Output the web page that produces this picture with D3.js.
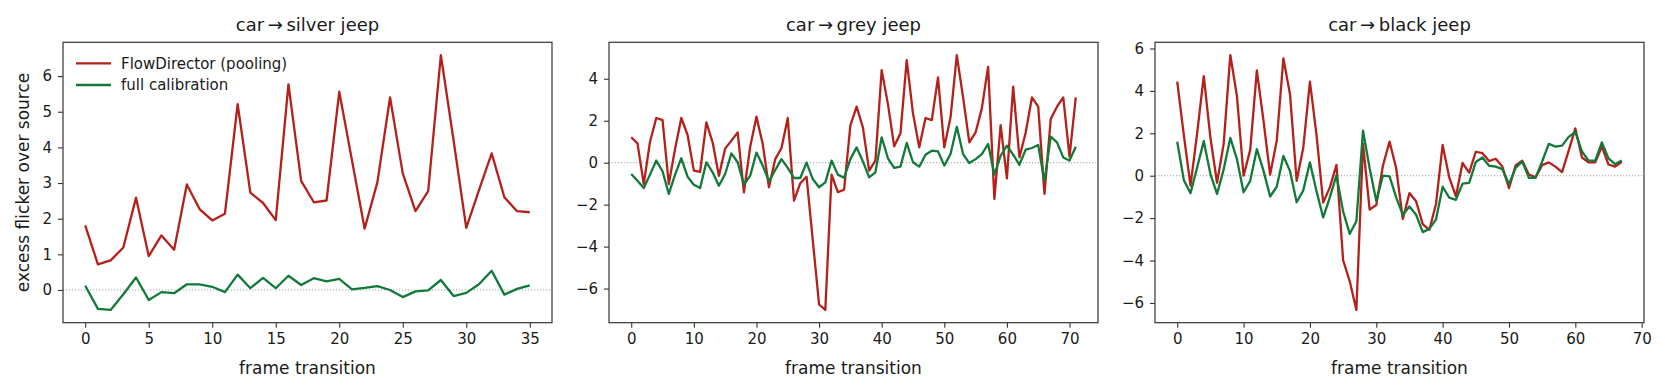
<!DOCTYPE html>
<html>
<head>
<meta charset="utf-8">
<script src="https://cdn.jsdelivr.net/npm/d3@7"></script>
<style>
    body { margin: 0; background: #fff; }
    text { font-family: "DejaVu Sans", sans-serif; fill: #1a1a1a; }
</style>
</head>
<body>
<div id="chart"></div>
<script>
// Series values, one entry per frame transition
const silverFlow = [1.81, 0.72, 0.83, 1.19, 2.59, 0.95, 1.53, 1.13, 2.96, 2.27, 1.95, 2.14, 5.21, 2.73, 2.44, 1.96, 5.77, 3.06,
    2.46, 2.51, 5.56, 3.64, 1.72, 3.02, 5.40, 3.27, 2.21, 2.77, 6.59, 4.2, 1.74, 2.8, 3.83, 2.60, 2.21, 2.18];
const silverCalib = [0.12, -0.53, -0.56, -0.12, 0.35, -0.28, -0.06, -0.09, 0.16, 0.16, 0.09, -0.06, 0.43, 0.05, 0.34, 0.05, 0.40, 0.14,
    0.33, 0.24, 0.31, 0.02, 0.06, 0.11, 0.0, -0.20, -0.04, -0.01, 0.28, -0.17, -0.08, 0.16, 0.54, -0.13, 0.03, 0.13];

const greyFlow = [1.21, 0.92, -1.02, 1.0, 2.13, 2.03, -1.02, 0.65, 2.13, 1.32, -0.38, -0.44, 1.92, 0.97, -0.63, 0.67, 1.05, 1.44,
    -1.41, 0.76, 2.19, 0.89, -1.17, 0.17, 0.70, 2.13, -1.81, -0.98, -0.67, -3.7, -6.76, -7.02, -0.57, -1.40, -1.29, 1.78,
    2.67, 1.68, -0.38, 0.1, 4.41, 2.79, 0.78, 1.40, 4.89, 2.35, 0.73, 2.13, 2.03, 4.06, 0.73, 2.16, 5.13, 3.11,
    0.97, 1.44, 2.60, 4.57, -1.73, 1.79, -0.75, 3.62, 0.25, 1.44, 3.11, 2.67, -1.49, 2.08, 2.67, 3.11, 0.29, 3.11];
const greyCalib = [-0.54, -0.86, -1.21, -0.57, 0.10, -0.41, -1.49, -0.57, 0.21, -0.67, -1.05, -1.21, 0.02, -0.46, -1.10, -0.54, 0.44, 0.02,
    -1.05, -0.62, 0.48, -0.14, -0.89, -0.35, 0.17, -0.25, -0.73, -0.73, 0.0, -0.78, -1.17, -0.94, 0.10, -0.57, -0.72, 0.17,
    0.73, 0.06, -0.70, -0.46, 1.21, 0.21, -0.25, -0.19, 0.94, 0.02, -0.19, 0.38, 0.57, 0.54, -0.14, 0.41, 1.71, 0.41,
    -0.02, 0.17, 0.41, 0.89, -0.57, 0.33, 0.81, 0.38, -0.10, 0.62, 0.70, 0.84, -0.89, 1.24, 0.97, 0.25, 0.10, 0.76];

const blackFlow = [4.44, 1.9, -0.47, 2.0, 4.70, 1.8, -0.33, 1.5, 5.69, 3.76, 0.0, 1.22, 4.97, 2.6, 0.05, 1.65, 5.53, 3.84,
    -0.24, 1.33, 4.44, 1.9, -1.27, -0.55, 0.51, -3.98, -4.98, -6.33, 1.5, -1.60, -1.38, 0.47, 1.61, 0.35,
    -2.04, -0.82, -1.20, -2.28, -2.55, -1.33, 1.45, -0.08, -0.98, 0.60, 0.15, 1.13, 1.06, 0.69, 0.80, 0.43,
    -0.59, 0.48, 0.71, 0.06, -0.08, 0.50, 0.63, 0.43, 0.17, 1.18, 2.23, 0.86, 0.63, 0.63, 1.37, 0.53, 0.43, 0.66];
const blackCalib = [1.60, -0.21, -0.82, 0.39, 1.63, 0.08, -0.86, 0.3, 1.78, 0.78, -0.78, -0.24, 1.25, 0.24, -0.98, -0.52, 0.93, 0.22,
    -1.25, -0.69, 0.63, -0.74, -1.97, -1.02, 0.03, -1.68, -2.74, -2.15, 2.12, 0.35, -1.19, 0.0, -0.03, -1.02,
    -1.84, -1.45, -1.84, -2.66, -2.51, -2.06, -0.52, -1.03, -1.14, -0.37, -0.34, 0.65, 0.86, 0.47, 0.43, 0.31,
    -0.40, 0.37, 0.67, -0.10, -0.10, 0.67, 1.50, 1.37, 1.42, 1.83, 2.07, 1.14, 0.71, 0.71, 1.57, 0.82, 0.55, 0.72];

// Titles, legend names and tick labels
const panelTitles = ["car\u2009\u2192\u2009silver jeep", "car\u2009\u2192\u2009grey jeep", "car\u2009\u2192\u2009black jeep"];
const seriesNames = ["FlowDirector (pooling)", "full calibration"];
const xTicksShort = [0, 5, 10, 15, 20, 25, 30, 35];
const xTicksLong = [0, 10, 20, 30, 40, 50, 60, 70];
const yTicksSilver = [0, 1, 2, 3, 4, 5, 6];
const yTicksGrey = [-6, -4, -2, 0, 2, 4];
const yTicksBlack = [-6, -4, -2, 0, 2, 4, 6];

const colours = ["#b3211a", "#117a38"];

const outerWidth = 1665;
const outerHeight = 391;
const panelLefts = [63, 609, 1155];
const panelWidth = 489;
const panelTop = 42.3;
const panelBottom = 322.7;

const tickFormat = (d) => d < 0 ? "\u2212" + Math.abs(d) : String(d);

const paddedDomain = (values) => {
    const ext = d3.extent(values);
    const pad = (ext[1] - ext[0]) * 0.05;
    return [ext[0] - pad, ext[1] + pad];
};

const svg = d3.select("#chart")
    .append("svg")
    .attr("width", outerWidth)
    .attr("height", outerHeight)
    .attr("viewBox", [0, 0, outerWidth, outerHeight]);

const drawPanel = (index, flow, calib, xTicks, yTicks, showLegend) => {
    const left = panelLefts[index];
    const n = flow.length;

    // Scales with matplotlib style 5% margins
    const xPad = (n - 1) * 0.05;
    const xScale = d3.scaleLinear()
        .domain([-xPad, n - 1 + xPad])
        .range([left, left + panelWidth]);

    const yScale = d3.scaleLinear()
        .domain(paddedDomain(flow.concat(calib)))
        .range([panelBottom, panelTop]);

    const g = svg.append("g");

    // Zero reference line
    g.append("line")
        .attr("x1", left)
        .attr("x2", left + panelWidth)
        .attr("y1", yScale(0))
        .attr("y2", yScale(0))
        .attr("stroke", "#8c8c8c")
        .attr("stroke-width", 0.8)
        .attr("stroke-dasharray", "1.2,1.8");

    // Series lines
    const line = d3.line()
        .x((d, i) => xScale(i))
        .y(d => yScale(d));

    [flow, calib].forEach((series, s) => {
        g.append("path")
            .datum(series)
            .attr("fill", "none")
            .attr("stroke", colours[s])
            .attr("stroke-width", 2.3)
            .attr("stroke-linejoin", "round")
            .attr("d", line);
    });

    // Axes
    const xAxis = d3.axisBottom(xScale)
        .tickValues(xTicks)
        .tickSize(5)
        .tickPadding(6)
        .tickFormat(tickFormat);

    const yAxis = d3.axisLeft(yScale)
        .tickValues(yTicks)
        .tickSize(5)
        .tickPadding(6)
        .tickFormat(tickFormat);

    const gx = g.append("g")
        .attr("transform", "translate(0," + panelBottom + ")")
        .call(xAxis);

    const gy = g.append("g")
        .attr("transform", "translate(" + left + ",0)")
        .call(yAxis);

    [gx, gy].forEach(ax => {
        ax.select(".domain").remove();
        ax.selectAll("line").attr("stroke", "#333").attr("stroke-width", 1.1);
        ax.selectAll("text")
            .attr("font-size", 15)
            .attr("fill", "#1a1a1a")
            .style("font-family", "DejaVu Sans");
    });

    // Frame
    g.append("rect")
        .attr("x", left)
        .attr("y", panelTop)
        .attr("width", panelWidth)
        .attr("height", panelBottom - panelTop)
        .attr("fill", "none")
        .attr("stroke", "#333")
        .attr("stroke-width", 1.2);

    // Title and x label
    g.append("text")
        .attr("x", left + panelWidth / 2)
        .attr("y", 30.5)
        .attr("text-anchor", "middle")
        .attr("font-size", 18)
        .text(panelTitles[index]);

    g.append("text")
        .attr("x", left + panelWidth / 2)
        .attr("y", 374)
        .attr("text-anchor", "middle")
        .attr("font-size", 17)
        .text("frame transition");

    if (showLegend) {
        const legend = g.append("g");
        seriesNames.forEach((name, s) => {
            const cy = 63.3 + s * 21.7;
            legend.append("line")
                .attr("x1", left + 13)
                .attr("x2", left + 48)
                .attr("y1", cy)
                .attr("y2", cy)
                .attr("stroke", colours[s])
                .attr("stroke-width", 2.3);
            legend.append("text")
                .attr("x", left + 58)
                .attr("y", cy + 5.3)
                .attr("font-size", 15)
                .text(name);
        });
    }
};

drawPanel(0, silverFlow, silverCalib, xTicksShort, yTicksSilver, true);
drawPanel(1, greyFlow, greyCalib, xTicksLong, yTicksGrey, false);
drawPanel(2, blackFlow, blackCalib, xTicksLong, yTicksBlack, false);

// Shared y label on the first panel
svg.append("text")
    .attr("transform", "translate(28.5," + ((panelTop + panelBottom) / 2) + ") rotate(-90)")
    .attr("text-anchor", "middle")
    .attr("font-size", 17)
    .text("excess flicker over source");
</script>
</body>
</html>
